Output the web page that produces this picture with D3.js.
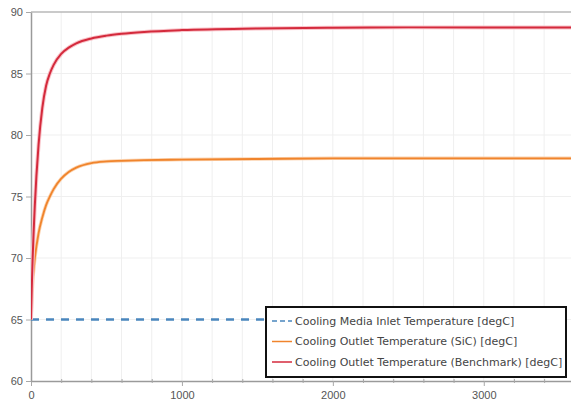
<!DOCTYPE html>
<html>
<head>
<meta charset="utf-8">
<script src="https://cdn.jsdelivr.net/npm/d3@7"></script>
<style>
  body { margin: 0; background: #fff; }
  svg { display: block; font-family: "Liberation Sans", Arial, sans-serif; }
</style>
</head>
<body>
<div id="chart"></div>
<script>
// time in seconds
var timeS = [0, 5, 10, 25, 50, 75, 100, 125, 150, 200, 250, 300, 400, 500, 600, 750, 1000, 1500, 2000, 2500, 3000, 3600];
// Cooling Outlet Temperature (Benchmark)
var benchT = [65, 67.5, 69.6, 74.2, 79.2, 82.2, 84.0, 85.0, 85.7, 86.6, 87.1, 87.45, 87.85, 88.08, 88.23, 88.38, 88.53, 88.66, 88.72, 88.75, 88.75, 88.75];
// Cooling Outlet Temperature (SiC)
var sicT = [65, 66.6, 67.8, 69.9, 72.0, 73.3, 74.3, 75.0, 75.6, 76.45, 77.0, 77.35, 77.72, 77.85, 77.9, 77.95, 78.0, 78.05, 78.1, 78.1, 78.1, 78.1];
// Cooling Media Inlet Temperature
var inletT = [65, 65];
var inletTime = [0, 3600];

var seriesNames = [
  "Cooling Media Inlet Temperature [degC]",
  "Cooling Outlet Temperature (SiC) [degC]",
  "Cooling Outlet Temperature (Benchmark) [degC]"
];
var seriesColors = ["#4a86bd", "#f0842c", "#d42a3c"];

var yTicks = [60, 65, 70, 75, 80, 85, 90];
var xTicks = [0, 1000, 2000, 3000];

var W = 571, H = 410;
var margin = {top: 12, right: 0, bottom: 29, left: 31};

var svg = d3.select("#chart").append("svg")
    .attr("width", W)
    .attr("height", H);

var x = d3.scaleLinear().domain([0, 3578]).range([margin.left, W - margin.right]);
var y = d3.scaleLinear().domain([60, 90]).range([H - margin.bottom, margin.top]);

svg.append("defs").append("clipPath").attr("id", "clip")
  .append("rect")
    .attr("x", margin.left).attr("y", margin.top - 2)
    .attr("width", W - margin.left).attr("height", H - margin.bottom - margin.top + 2);

// grid
var minorX = d3.range(200, 3600, 200);
svg.append("g").selectAll("line")
  .data(minorX)
  .enter().append("line")
    .attr("x1", function(d) { return x(d); })
    .attr("x2", function(d) { return x(d); })
    .attr("y1", y(60)).attr("y2", y(90))
    .attr("stroke", "#efefef").attr("stroke-width", 1);

svg.append("g").selectAll("line")
  .data(yTicks.slice(1, -1))
  .enter().append("line")
    .attr("x1", x(0)).attr("x2", W)
    .attr("y1", function(d) { return y(d); })
    .attr("y2", function(d) { return y(d); })
    .attr("stroke", "#efefef").attr("stroke-width", 1);

// top border
svg.append("line")
  .attr("x1", x(0)).attr("x2", W)
  .attr("y1", y(90)).attr("y2", y(90))
  .attr("stroke", "#b8b8b8").attr("stroke-width", 1.5);

// axes
var xAxis = svg.append("g")
  .attr("transform", "translate(0," + y(60) + ")")
  .call(d3.axisBottom(x).tickValues(xTicks).tickFormat(d3.format("d"))
    .tickSize(5).tickPadding(5).tickSizeOuter(0));

var xMinor = svg.append("g")
  .attr("transform", "translate(0," + (y(60) - 2) + ")")
  .call(d3.axisBottom(x).tickValues(minorX.filter(function(d) { return d % 1000 != 0; }))
    .tickSize(4).tickFormat("").tickSizeOuter(0));
xMinor.select(".domain").remove();

var yAxis = svg.append("g")
  .attr("transform", "translate(" + x(0) + ",0)")
  .call(d3.axisLeft(y).tickValues(yTicks).tickSize(5).tickPadding(3).tickSizeOuter(0));

[xAxis, yAxis, xMinor].forEach(function(g) {
  g.select(".domain").attr("stroke", "#9a9a9a").attr("stroke-width", 1.5);
  g.selectAll(".tick line").attr("stroke", "#a8a8a8");
  g.selectAll(".tick text").attr("fill", "#555").style("font-size", "11px")
    .style("font-family", "'Liberation Sans', Arial, sans-serif");
});

// lines
var plot = svg.append("g").attr("clip-path", "url(#clip)");

var line = d3.line()
  .x(function(d) { return x(d[0]); })
  .y(function(d) { return y(d[1]); })
  .curve(d3.curveMonotoneX);

plot.append("path")
  .datum(d3.zip(inletTime, inletT))
  .attr("d", line)
  .attr("fill", "none")
  .attr("stroke", seriesColors[0])
  .attr("stroke-width", 2.5)
  .attr("stroke-dasharray", "8,7");

plot.append("path")
  .datum(d3.zip(timeS, sicT))
  .attr("d", line)
  .attr("fill", "none")
  .attr("stroke", "#fbd3b0")
  .attr("stroke-width", 3.5);

plot.append("path")
  .datum(d3.zip(timeS, sicT))
  .attr("d", line)
  .attr("fill", "none")
  .attr("stroke", seriesColors[1])
  .attr("stroke-width", 1.8);

plot.append("path")
  .datum(d3.zip(timeS, benchT))
  .attr("d", line)
  .attr("fill", "none")
  .attr("stroke", "#f9c4ca")
  .attr("stroke-width", 4);

plot.append("path")
  .datum(d3.zip(timeS, benchT))
  .attr("d", line)
  .attr("fill", "none")
  .attr("stroke", seriesColors[2])
  .attr("stroke-width", 2);

// legend
var lg = svg.append("g").attr("transform", "translate(266,307)");
lg.append("rect")
  .attr("width", 300).attr("height", 70)
  .attr("fill", "#fff")
  .attr("stroke", "#111").attr("stroke-width", 2);

var items = lg.selectAll("g.item")
  .data(seriesNames)
  .enter().append("g")
    .attr("class", "item")
    .attr("transform", function(d, i) { return "translate(0," + (14 + i * 20.5) + ")"; });

items.append("line")
  .attr("x1", 6).attr("x2", 26)
  .attr("stroke", function(d, i) { return seriesColors[i]; })
  .attr("stroke-width", 1.5)
  .attr("stroke-dasharray", function(d, i) { return i == 0 ? "5,3" : null; });

items.append("text")
  .attr("x", 29).attr("dy", "0.35em")
  .style("font-size", "11px")
  .style("font-family", "'DejaVu Sans', Verdana, sans-serif")
  .attr("fill", "#444")
  .text(function(d) { return d; });
</script>
</body>
</html>
